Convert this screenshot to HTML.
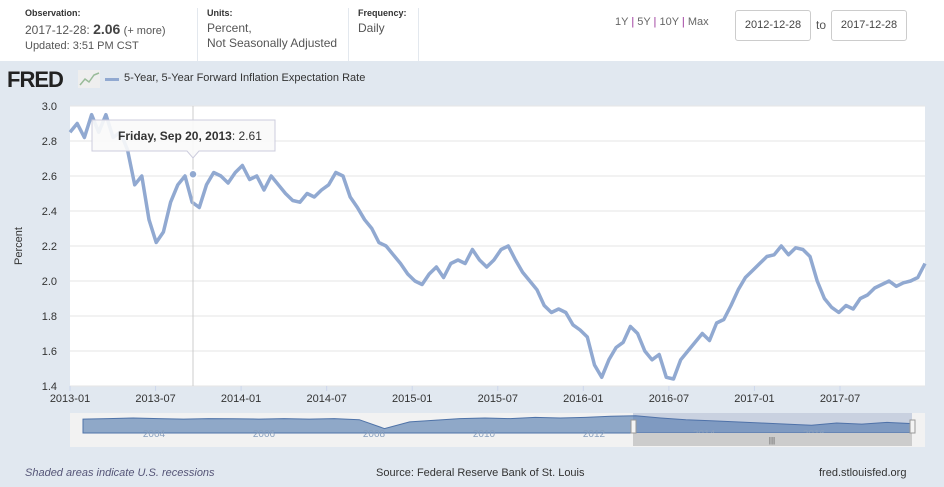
<!DOCTYPE html>
<html><head><meta charset="utf-8"><style>
body{margin:0;width:944px;height:487px;overflow:hidden;background:#fff;font-family:"Liberation Sans","DejaVu Sans",sans-serif;position:relative}
.abs{position:absolute}
.lbl{font-size:9px;font-weight:bold;color:#333}
.txt{font-size:12px;color:#555}
.box{position:absolute;top:10px;height:29px;width:74px;border:1px solid #ccc;border-radius:3px;font-size:11px;color:#444;text-align:center;line-height:29px;background:#fff}
</style></head><body>
<div class="abs" style="left:25px;top:8px">
 <div class="lbl">Observation:</div>
 <div class="txt" style="margin-top:3px">2017-12-28: <b style="font-size:14px;color:#444">2.06</b> <span style="font-size:11px">(+ more)</span></div>
 <div class="txt" style="font-size:11px;margin-top:3px">Updated: 3:51 PM CST</div>
</div>
<div class="abs" style="left:197px;top:8px;width:1px;height:53px;background:#e3e8ee"></div>
<div class="abs" style="left:207px;top:8px">
 <div class="lbl">Units:</div>
 <div class="txt" style="margin-top:3px;line-height:15px">Percent,<br>Not Seasonally Adjusted</div>
</div>
<div class="abs" style="left:348px;top:8px;width:1px;height:53px;background:#e3e8ee"></div>
<div class="abs" style="left:358px;top:8px">
 <div class="lbl">Frequency:</div>
 <div class="txt" style="margin-top:3px">Daily</div>
</div>
<div class="abs" style="left:418px;top:8px;width:1px;height:53px;background:#e3e8ee"></div>
<div class="abs" style="left:615px;top:16px;font-size:11px;color:#666">1Y <span style="color:#939">|</span> 5Y <span style="color:#939">|</span> 10Y <span style="color:#939">|</span> Max</div>
<div class="box" style="left:735px">2012-12-28</div>
<div class="abs txt" style="left:816px;top:18px">to</div>
<div class="box" style="left:831px">2017-12-28</div>

<div class="abs" style="left:0;top:61px;width:944px;height:426px;background:#e1e8f0"></div>
<div class="abs" style="left:7px;top:67px;font-size:22px;font-weight:900;color:#222;letter-spacing:-1px">FRED</div>
<svg class="abs" style="left:78px;top:70px" width="24" height="18"><rect width="22" height="18" fill="#eee"/><polyline points="2,15 7,9 11,12 16,5 21,3" fill="none" stroke="#9b9" stroke-width="1.5"/></svg>
<div class="abs" style="left:105px;top:78px;width:14px;height:3px;background:#91a9d1"></div>
<div class="abs" style="left:124px;top:72px;font-size:11px;color:#333">5-Year, 5-Year Forward Inflation Expectation Rate</div>

<svg class="abs" style="left:0;top:0" width="944" height="487" id="chart"></svg>

<div class="abs" style="left:25px;top:467px;font-size:11px;font-style:italic;color:#557">Shaded areas indicate U.S. recessions</div>
<div class="abs" style="left:376px;top:467px;font-size:11px;color:#333">Source: Federal Reserve Bank of St. Louis</div>
<div class="abs" style="left:819px;top:467px;font-size:11px;color:#333">fred.stlouisfed.org</div>
<script>
const yTicks=[1.4,1.6,1.8,2.0,2.2,2.4,2.6,2.8,3.0];
const xTickLabels=["2013-01","2013-07","2014-01","2014-07","2015-01","2015-07","2016-01","2016-07","2017-01","2017-07"];
const values=[2.85,2.9,2.82,2.95,2.85,2.95,2.82,2.85,2.75,2.55,2.6,2.35,2.22,2.28,2.45,2.55,2.6,2.45,2.42,2.55,2.62,2.6,2.56,2.62,
2.66,2.58,2.6,2.52,2.6,2.55,2.5,2.46,2.45,2.5,2.48,2.52,2.55,2.62,2.6,2.48,2.42,2.35,2.3,2.22,2.2,2.15,2.1,2.04,
2.0,1.98,2.04,2.08,2.02,2.1,2.12,2.1,2.18,2.12,2.08,2.12,2.18,2.2,2.12,2.05,2.0,1.95,1.86,1.82,1.84,1.82,1.75,1.72,
1.68,1.52,1.45,1.55,1.62,1.65,1.74,1.7,1.6,1.55,1.58,1.45,1.44,1.55,1.6,1.65,1.7,1.66,1.76,1.78,1.86,1.95,2.02,2.06,
2.1,2.14,2.15,2.2,2.15,2.19,2.18,2.14,2.0,1.9,1.85,1.82,1.86,1.84,1.9,1.92,1.96,1.98,2.0,1.97,1.99,2.0,2.02,2.1];
const navValues=[2.45,2.5,2.55,2.5,2.45,2.5,2.48,2.45,2.5,2.45,2.5,2.4,1.6,2.2,2.35,2.5,2.55,2.5,2.6,2.55,2.6,2.7,2.75,2.55,2.4,2.3,2.2,2.1,2.0,1.9,2.1,2.0,2.15,2.05];
const NS="http://www.w3.org/2000/svg",svg=document.getElementById('chart');
const L=70,R=925,T=106,B=386;
const y=v=>B-(v-1.4)/(1.6)*(B-T);
const xm=m=>L+m*(840-L)/54;
function mk(t,a){const e=document.createElementNS(NS,t);for(const k in a)e.setAttribute(k,a[k]);svg.appendChild(e);return e;}
let bg=mk('rect',{x:L,y:T,width:R-L,height:B-T,fill:'#fff'});


yTicks.forEach(v=>{
 let g=mk('line',{x1:L,x2:R,y1:y(v),y2:y(v),stroke:'#e6e6e6'});
 
 
 let t=mk('text',{x:57,y:y(v)+4,'text-anchor':'end','font-size':11,fill:'#333'});t.textContent=v.toFixed(1);
 
 
});
xTickLabels.forEach((s,i)=>{
 const xx=xm(i*6);
 let g=mk('line',{x1:xx,x2:xx,y1:B,y2:B+5,stroke:'#ccd6eb'});
 
 
 let t=mk('text',{x:xx,y:B+16,'text-anchor':'middle','font-size':11,fill:'#333'});t.textContent=s;
 
 
});
let yt=mk('text',{x:22,y:246,'text-anchor':'middle','font-size':11,fill:'#333',transform:'rotate(-90 22 246)'});yt.textContent='Percent';


const step=(R-L)/(values.length-1);
let pts=values.map((v,i)=>(L+i*step).toFixed(1)+','+y(v).toFixed(1)).join(' ');
let line=mk('polyline',{points:pts,fill:'none',stroke:'#91a9d1','stroke-width':3.5,'stroke-linejoin':'round'});


const cx=193,cy=y(2.61);
let ch=mk('line',{x1:cx,x2:cx,y1:T,y2:B,stroke:'#ccc'});


let pt=mk('circle',{cx:cx,cy:cy,r:4,fill:'#91a9d1',stroke:'#fff','stroke-width':1.5});


let tip=mk('path',{d:`M92 120 H275 V151 H${cx+6} L${cx} 158 L${cx-6} 151 H92 Z`,fill:'rgba(250,250,250,0.9)',stroke:'#ccd','stroke-width':1});


let tt=mk('text',{x:118,y:140,'font-size':12,fill:'#333'});
tt.innerHTML='<tspan font-weight="bold">Friday, Sep 20, 2013</tspan>: 2.61';


const NL=83,NR=912,NT=413,NB=433;
let nb=mk('rect',{x:70,y:413,width:855,height:34,fill:'#f2f2f2'});


const ny=v=>NB-(v-1.2)/1.8*(NB-NT);
const ns=(NR-NL)/(navValues.length-1);
let np='M'+NL+','+NB+' '+navValues.map((v,i)=>'L'+(NL+i*ns).toFixed(1)+','+ny(v).toFixed(1)).join(' ')+' L'+NR+','+NB+'Z';
let na=mk('path',{d:np,fill:'#8fa8c8',stroke:'#4f73a8','stroke-width':1});


let sel=mk('rect',{x:633,y:413,width:279,height:20,fill:'rgba(80,110,170,0.25)'});


['2004','2006','2008','2010','2012','2014','2016'].forEach((s,i)=>{let t=mk('text',{x:154+i*110,y:437,'text-anchor':'middle','font-size':10,fill:'#8aa0bd'});t.textContent=s;
 
 });
let sb=mk('rect',{x:633,y:433,width:279,height:13,fill:'#ccc'});


[631,910].forEach(hx=>{let h=mk('rect',{x:hx,y:420,width:5,height:13,fill:'#f4f4f4',stroke:'#999'});
 
 });
let g3=mk('text',{x:772,y:443,'text-anchor':'middle','font-size':8,fill:'#555'});g3.textContent='|||';


</script>
</body></html>
